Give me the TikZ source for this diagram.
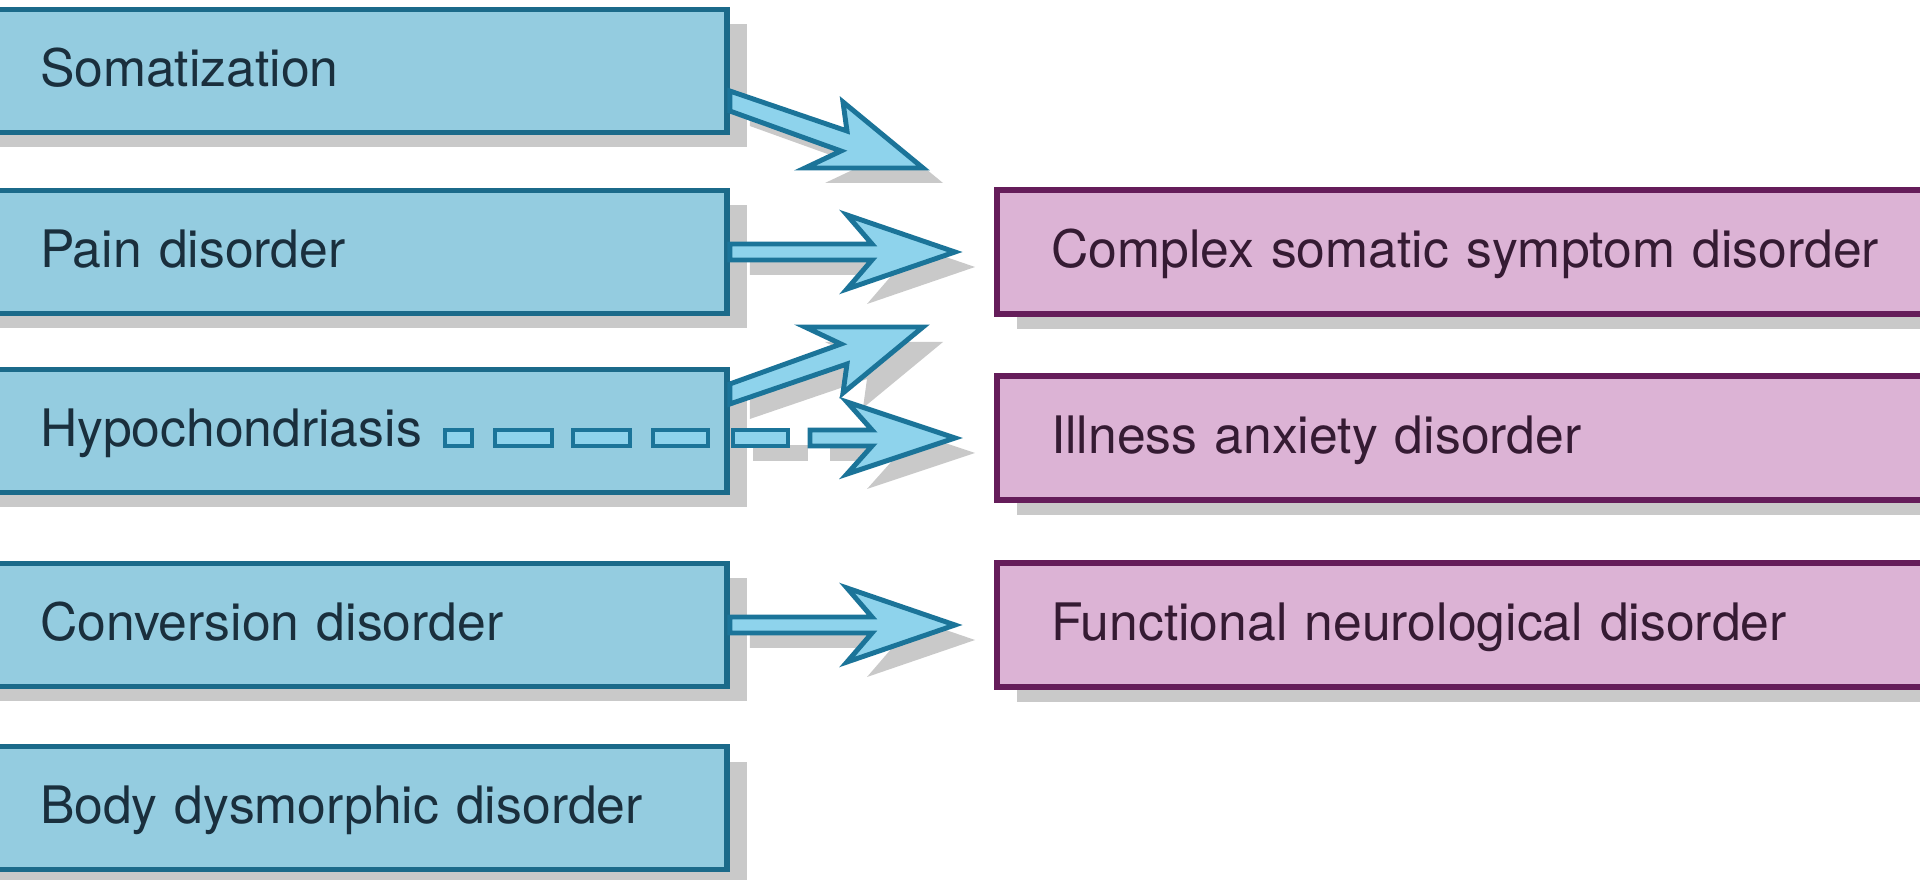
\documentclass[tikz,border=0pt]{standalone}
\usepackage{fontspec}
\setmainfont{TeX Gyre Heros}
\usepackage{xcolor}
\usepackage{tikz}
\usetikzlibrary{calc,shadows}

\definecolor{boxblue}{HTML}{94CCE0}
\definecolor{edgeblue}{HTML}{1B6A8A}
\definecolor{arrowfill}{HTML}{8ED3EC}
\definecolor{arrowedge}{HTML}{1B7499}
\definecolor{boxpink}{HTML}{DCB3D5}
\definecolor{edgepink}{HTML}{651D5A}
\definecolor{shadowgray}{HTML}{C9C9C9}
\definecolor{txtblue}{HTML}{1A2F3D}
\definecolor{txtpink}{HTML}{351B33}

\begin{document}
\begin{tikzpicture}[
        x=0.1mm, y=-0.1mm,
        boxshadow/.style={drop shadow={shadow xshift=2mm, shadow yshift=-1.5mm, fill=shadowgray, opacity=1}},
        oldbox/.style={rectangle, draw=edgeblue, fill=boxblue, line width=1.6pt, boxshadow,
            minimum width=75.7mm, minimum height=12.3mm, inner xsep=7mm, text width=61.7mm, align=left,
            text height=10.6pt, text depth=2pt, text=txtblue, font=\fontsize{14.7pt}{17pt}\selectfont},
        newbox/.style={rectangle, draw=edgepink, fill=boxpink, line width=1.6pt, boxshadow,
            minimum width=95.3mm, minimum height=12.4mm, inner xsep=5.4mm, text width=84.5mm, align=left,
            text height=10.6pt, text depth=2pt, text=txtpink, font=\fontsize{14.7pt}{17pt}\selectfont},
        blockarrow/.style={draw=arrowedge, fill=arrowfill, line width=1.4pt, line join=miter, boxshadow},
        dashbox/.style={draw=arrowedge, fill=arrowfill, line width=1.4pt}
    ]
        \path[use as bounding box, fill=white] (0,0) rectangle (1920,880);

        \node[oldbox] (soma) at (348.5,71) {Somatization};
        \node[oldbox] (pain) at (348.5,252) {Pain disorder};
        \node[oldbox] (hypo) at (348.5,431) {Hypochondriasis};
        \node[oldbox] (conv) at (348.5,625) {Conversion disorder};
        \node[oldbox] (body) at (348.5,808) {Body dysmorphic disorder};

        \node[newbox] (csd) at (1473.5,252) {Complex somatic symptom disorder};
        \node[newbox] (iad) at (1473.5,438) {Illness anxiety disorder};
        \node[newbox] (fnd) at (1473.5,625) {Functional neurological disorder};

        \coordinate (t1) at (923,168);
        \coordinate (t2) at (955,252);
        \coordinate (t3) at (923,327);
        \coordinate (t4) at (955,438);
        \coordinate (t5) at (955,625);

        \draw[blockarrow] ($(soma.east)+(0,20)$) -- ($(t1)+(-76,-37)$) -- ($(t1)+(-80,-66)$) -- (t1)
            -- ($(t1)+(-118,0)$) -- ($(t1)+(-82,-17)$) -- ($(soma.east)+(0,40)$) -- cycle;
        \draw[blockarrow] ($(pain.east)+(0,-8)$) -- ($(t2)+(-83,-8)$) -- ($(t2)+(-108,-37)$) -- (t2)
            -- ($(t2)+(-108,37)$) -- ($(t2)+(-83,8)$) -- ($(pain.east)+(0,8)$) -- cycle;
        \draw[blockarrow] ($(hypo.east)+(0,-47)$) -- ($(t3)+(-82,17)$) -- ($(t3)+(-118,0)$) -- (t3)
            -- ($(t3)+(-80,66)$) -- ($(t3)+(-76,37)$) -- ($(hypo.east)+(0,-27)$) -- cycle;
        \draw[blockarrow] ($(conv.east)+(0,-8)$) -- ($(t5)+(-83,-8)$) -- ($(t5)+(-108,-37)$) -- (t5)
            -- ($(t5)+(-108,37)$) -- ($(t5)+(-83,8)$) -- ($(conv.east)+(0,8)$) -- cycle;

        \foreach \a/\b in {-510/-483, -460/-403, -382/-325, -302/-247}
            \draw[dashbox] ($(t4)+(\a,-8)$) rectangle ($(t4)+(\b,8)$);
        \draw[dashbox, boxshadow] ($(t4)+(-222,-8)$) rectangle ($(t4)+(-167,8)$);
        \draw[blockarrow] ($(t4)+(-145,-8)$) -- ($(t4)+(-83,-8)$) -- ($(t4)+(-108,-36)$) -- (t4)
            -- ($(t4)+(-108,36)$) -- ($(t4)+(-83,8)$) -- ($(t4)+(-145,8)$) -- cycle;
    \end{tikzpicture}
\end{document}
